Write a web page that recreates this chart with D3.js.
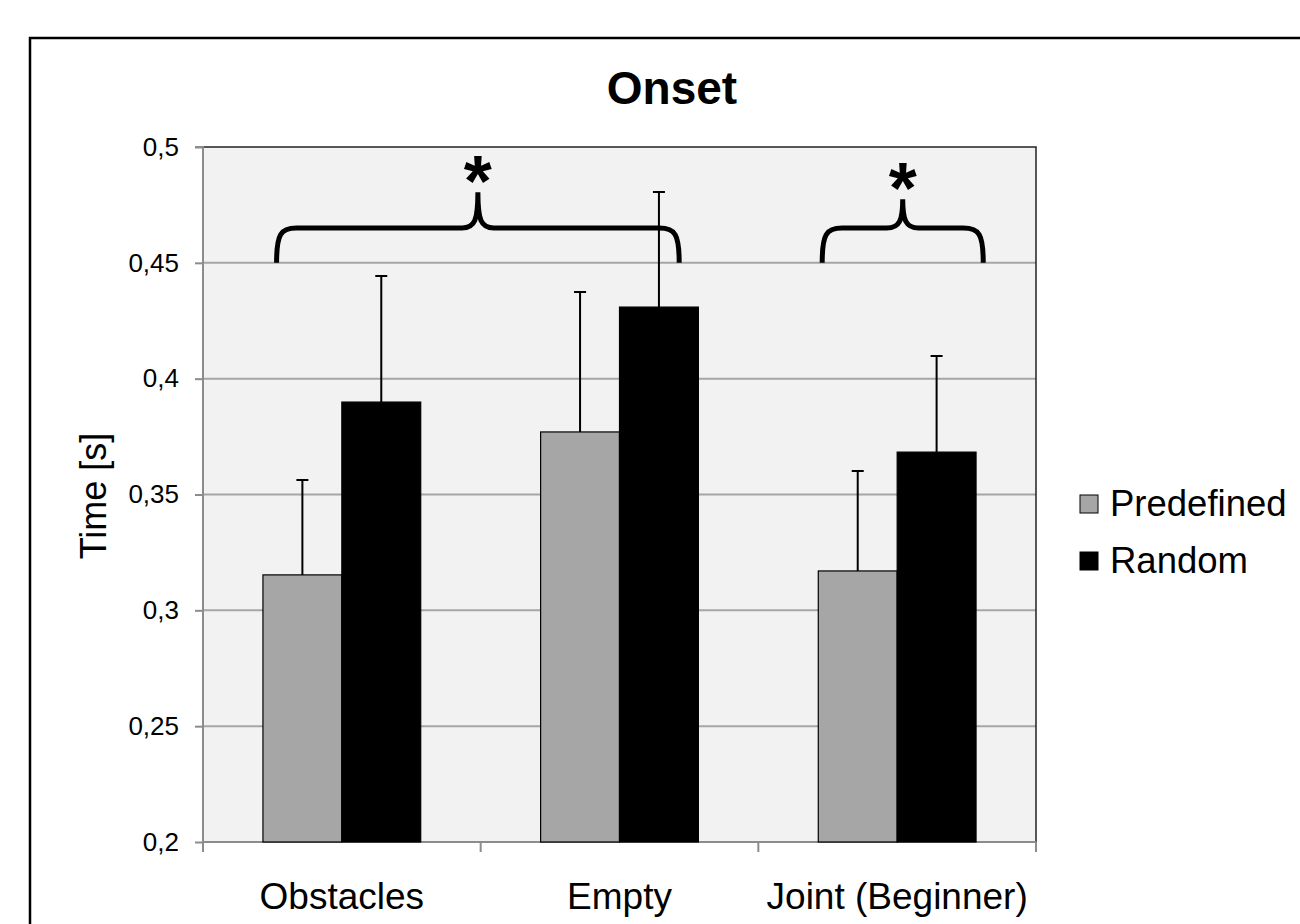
<!DOCTYPE html>
<html><head><meta charset="utf-8">
<script src="https://cdn.jsdelivr.net/npm/d3@7"></script>
<style>body{margin:0;background:#fff}svg{display:block}text{font-family:"Liberation Sans",Arial,sans-serif}</style>
</head><body>
<script>
const categories = ["Obstacles", "Empty", "Joint (Beginner)"];
const seriesNames = ["Predefined", "Random"];
const predefinedMean = [0.3153, 0.377, 0.317];
const predefinedErr = [0.041, 0.0604, 0.0431];
const randomMean = [0.3899, 0.4309, 0.3683];
const randomErr = [0.0544, 0.0497, 0.0415];
const yTicks = [0.2, 0.25, 0.3, 0.35, 0.4, 0.45, 0.5];
const braceStart = ["Obstacles", "Joint (Beginner)"];
const braceStartFrac = [0.265, 0.23];
const braceEnd = ["Empty", "Joint (Beginner)"];
const braceEndFrac = [0.715, 0.81];
const braceTip = [0.45, 0.45];
const braceBar = [0.465, 0.465];
const braceTop = [0.4805, 0.4775];
const braceLabel = ["*", "*"];

const W = 1300, H = 924;
const svg = d3.select("body").append("svg").attr("width", W).attr("height", H);
const colors = {Predefined: "#a6a6a6", Random: "#000000"};

svg.append("rect").attr("x", 30).attr("y", 38).attr("width", 1300).attr("height", 950)
  .attr("fill", "#fff").attr("stroke", "#000").attr("stroke-width", 2.5);

const L = 203, R = 1036, T = 147, B = 842;
const y = d3.scaleLinear().domain([0.2, 0.5]).range([B, T]);
const x0 = d3.scaleBand().domain(categories).range([L, R]).padding(0);
const x1 = d3.scaleBand().domain(seriesNames).range([0, x0.bandwidth()]).paddingInner(0).paddingOuter(0.76);

svg.append("rect").attr("x", L).attr("y", T).attr("width", R - L).attr("height", B - T).attr("fill", "#f2f2f2");

// gridlines
svg.append("g").selectAll("line").data(yTicks.filter(d => d > 0.2 && d < 0.5)).join("line")
  .attr("x1", L).attr("x2", R).attr("y1", d => y(d)).attr("y2", d => y(d))
  .attr("stroke", "#a6a6a6").attr("stroke-width", 2);

// top/right border
svg.append("path").attr("d", `M${L},${T}H${R}V${B}`).attr("fill", "none").attr("stroke", "#222").attr("stroke-width", 1.5);

// y axis
const yAxis = d3.axisLeft(y).tickValues(yTicks).tickSize(8).tickPadding(16)
  .tickFormat(d => d3.format("")(d).replace(".", ","));
const gy = svg.append("g").attr("transform", `translate(${L},0)`).call(yAxis);
gy.select(".domain").attr("stroke", "#8c8c8c").attr("stroke-width", 2).attr("d", `M-8,${T}H0V${B}`);
gy.selectAll(".tick line").attr("stroke", "#8c8c8c").attr("stroke-width", 2);
gy.selectAll(".tick text").attr("font-size", 26).attr("fill", "#000").attr("font-family", "Liberation Sans, Arial, sans-serif");

// x axis
const gx = svg.append("g").attr("transform", `translate(0,${B})`);
gx.append("line").attr("x1", L).attr("x2", R).attr("stroke", "#8c8c8c").attr("stroke-width", 2);
gx.selectAll("line.t").data(categories.concat(["__end"])).join("line").attr("class", "t")
  .attr("x1", (d, i) => i < categories.length ? x0(d) : R).attr("x2", (d, i) => i < categories.length ? x0(d) : R)
  .attr("y1", 0).attr("y2", 10).attr("stroke", "#8c8c8c").attr("stroke-width", 2);
gx.selectAll("text").data(categories).join("text")
  .attr("x", d => x0(d) + x0.bandwidth() / 2).attr("y", 67).attr("text-anchor", "middle")
  .attr("font-size", 37).text(d => d);

// bars
const rows = categories.map((c, i) => ({
  cat: c,
  vals: [
    {s: "Predefined", v: predefinedMean[i], e: predefinedErr[i]},
    {s: "Random", v: randomMean[i], e: randomErr[i]}
  ]
}));
const g = svg.append("g").selectAll("g").data(rows).join("g").attr("transform", d => `translate(${x0(d.cat)},0)`);
g.selectAll("rect").data(d => d.vals).join("rect")
  .attr("x", d => x1(d.s)).attr("width", x1.bandwidth())
  .attr("y", d => y(d.v)).attr("height", d => B - y(d.v))
  .attr("fill", d => colors[d.s]).attr("stroke", "#000").attr("stroke-width", 1.2);
// error bars
g.selectAll("path.err").data(d => d.vals).join("path").attr("class", "err")
  .attr("d", d => {
    const cx = x1(d.s) + x1.bandwidth() / 2;
    return `M${cx},${y(d.v)}V${y(d.v + d.e)}M${cx - 6},${y(d.v + d.e)}H${cx + 6}`;
  })
  .attr("fill", "none").attr("stroke", "#000").attr("stroke-width", 2);

// braces
braceStart.forEach((s, i) => {
  const xa = x0(s) + braceStartFrac[i] * x0.bandwidth();
  const xb = x0(braceEnd[i]) + braceEndFrac[i] * x0.bandwidth();
  const xc = (xa + xb) / 2;
  const yb = y(braceTip[i]), yh = y(braceBar[i]), yt = y(braceTop[i]);
  const r = 20, r2 = 16;
  const d = `M${xa},${yb}C${xa},${yh + 6} ${xa + 4},${yh} ${xa + r},${yh}` +
    `L${xc - r2},${yh}C${xc - 3},${yh} ${xc},${yh - 8} ${xc},${yt}` +
    `C${xc},${yh - 8} ${xc + 3},${yh} ${xc + r2},${yh}` +
    `L${xb - r},${yh}C${xb - 4},${yh} ${xb},${yh + 6} ${xb},${yb}`;
  svg.append("path").attr("d", d).attr("fill", "none").attr("stroke", "#000").attr("stroke-width", 5);
  svg.append("text").attr("x", xc).attr("y", yt + 14).attr("text-anchor", "middle")
    .attr("font-size", 72).attr("font-weight", "bold").text(braceLabel[i]);
});

// title
svg.append("text").attr("x", 672).attr("y", 104).attr("text-anchor", "middle")
  .attr("font-size", 46).attr("font-weight", "bold").text("Onset");

// y title
svg.append("text").attr("transform", "translate(106,496) rotate(-90)").attr("text-anchor", "middle")
  .attr("font-size", 36).text("Time [s]");

// legend
const lg = svg.append("g").selectAll("g").data(seriesNames).join("g")
  .attr("transform", (d, i) => `translate(1080,${495 + i * 57})`);
lg.append("rect").attr("width", 18).attr("height", 18).attr("fill", d => colors[d]).attr("stroke", "#000").attr("stroke-width", 1);
lg.append("text").attr("x", 30).attr("y", 21).attr("font-size", 36.5).text(d => d);
</script>
</body></html>
